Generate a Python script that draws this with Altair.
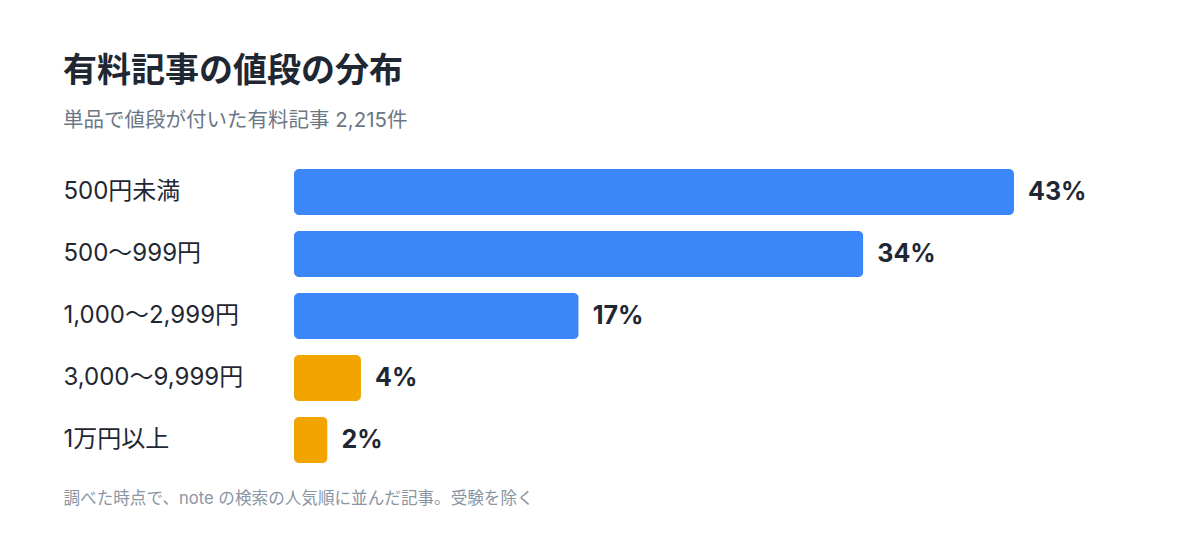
import altair as alt
import pandas as pd

categories = ["500円未満", "500〜999円", "1,000〜2,999円", "3,000〜9,999円", "1万円以上"]
shares = [43, 34, 17, 4, 2]

title_text = "有料記事の値段の分布"
subtitle_text = "単品で値段が付いた有料記事 2,215件"
note_text = "調べた時点で、note の検索の人気順に並んだ記事。受験を除く"

df = pd.DataFrame({"cat": categories, "pct": shares})
df["label"] = df["pct"].astype(str) + "%"

FONT = "Inter, 'Noto Sans CJK JP', sans-serif"
DARK = "#1f2733"

y_enc = alt.Y(
    "cat:N",
    sort=categories,
    scale=alt.Scale(paddingInner=0.258, paddingOuter=0.129),
    axis=alt.Axis(
        title=None, domain=False, ticks=False, tickSize=0, grid=False,
        labelAlign="left", labelPadding=231, labelFontSize=24, labelLimit=300,
        labelColor=DARK, labelFont=FONT, labelBaseline="middle",
    ),
)
x_enc = alt.X(
    "pct:Q",
    scale=alt.Scale(domain=[0, 51.36], nice=False, zero=True),
    axis=alt.Axis(
        title=note_text, labels=False, ticks=False, domain=False, grid=False,
        titleX=-231, titleY=27, titleAlign="left", titleAnchor="start",
        titleBaseline="middle", titleFontSize=16.6, titleFontWeight="normal",
        titleColor="#8a95a3", titleFont=FONT, titleLimit=800,
    ),
)

bars = alt.Chart(df).mark_bar(cornerRadius=5).encode(
    x=x_enc,
    y=y_enc,
    color=alt.condition("datum.pct >= 10", alt.value("#3b86f8"), alt.value("#f2a500")),
)

texts = alt.Chart(df).mark_text(
    align="left", baseline="middle", dx=14, fontSize=25, fontWeight="bold",
    color=DARK, font=FONT,
).encode(
    x="pct:Q",
    y=alt.Y("cat:N", sort=categories),
    text="label:N",
)

chart = alt.layer(bars, texts).properties(
    width=860,
    height=310,
    background="white",
    padding={"left": 55, "top": 46, "right": 5, "bottom": 5},
    title=alt.TitleParams(
        text=title_text,
        subtitle=subtitle_text,
        anchor="start",
        frame="bounds",
        fontSize=34,
        fontWeight="bold",
        color=DARK,
        font=FONT,
        subtitleFontSize=20.5,
        subtitleColor="#6b7785",
        subtitleFont=FONT,
        subtitlePadding=22,
        offset=30,
    ),
).configure_view(strokeOpacity=0, strokeWidth=0)

chart.save("out.html", embed_options={"renderer": "svg", "actions": False})
